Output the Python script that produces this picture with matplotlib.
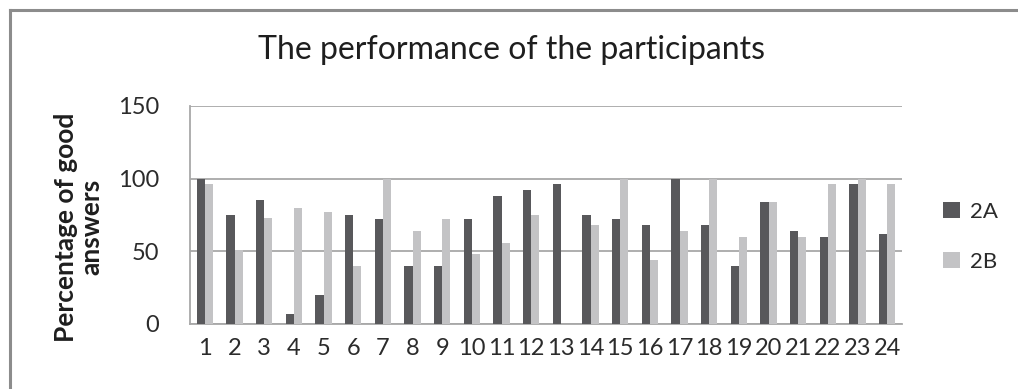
import matplotlib
matplotlib.use("Agg")
import matplotlib.pyplot as plt
import numpy as np
from matplotlib.lines import Line2D

categories = [str(i) for i in range(1, 25)]
series_2a = [100, 75, 85, 7, 20, 75, 72, 40, 40, 72, 88, 92, 96, 75, 72, 68, 100, 68, 40, 84, 64, 60, 96, 62]
series_2b = [96, 51, 73, 80, 77, 40, 100, 64, 72, 48, 56, 75, 0, 68, 100, 44, 64, 100, 60, 84, 60, 96, 100, 96]
series_names = ["2A", "2B"]
yticks = [0, 50, 100, 150]

plt.rcParams['font.family'] = ['Lato', 'DejaVu Sans']

W, H = 1018, 389
fig = plt.figure(figsize=(W / 100, H / 100), dpi=100)
fig.patch.set_facecolor("white")

# outer chart border (top and left only visible; runs off right/bottom)
bx, by = 9.5 / W, 1 - 9.5 / H
fig.add_artist(Line2D([bx, 1.0], [by, by], transform=fig.transFigure, color="#8c8c8c", linewidth=2.2))
fig.add_artist(Line2D([bx, bx], [0.0, by], transform=fig.transFigure, color="#8c8c8c", linewidth=2.2))

left, right, top, bottom = 190, 902, 106, 324
ax = fig.add_axes([left / W, 1 - bottom / H, (right - left) / W, (bottom - top) / H])

x = np.arange(len(categories))
bw = 0.28
c_a = "#58585b"
c_b = "#c3c3c5"
ax.bar(x - bw / 2, series_2a, width=bw, color=c_a, label=series_names[0], zorder=3)
ax.bar(x + bw / 2, series_2b, width=bw, color=c_b, label=series_names[1], zorder=3)

ax.set_xlim(-0.5, len(categories) - 0.5)
ax.set_ylim(0, 150)
ax.set_yticks(yticks)
ax.set_xticks(x)
ax.set_xticklabels(categories)
ax.tick_params(axis="both", length=0, labelsize=17, colors="#2b2b2b")
ax.tick_params(axis="y", pad=22)
ax.tick_params(axis="x", pad=10)

ax.grid(axis="y", color="#a8a8a8", linewidth=1.3, zorder=0)
for s in ["top", "right"]:
    ax.spines[s].set_visible(False)
ax.spines["left"].set_color("#a8a8a8")
ax.spines["bottom"].set_color("#a8a8a8")
ax.spines["left"].set_linewidth(1.3)
ax.spines["bottom"].set_linewidth(1.3)

ax.set_ylabel("Percentage of good\nanswers", fontsize=19, fontweight="bold", color="#1e1e1e",
              linespacing=1.05)
ax.yaxis.set_label_coords(-0.122, 0.445)

fig.text(512 / W, 1 - 50 / H, "The performance of the participants", ha="center", va="center",
         fontsize=23, color="#1e1e1e")

leg = ax.legend(loc="center left", bbox_to_anchor=(1.03, 0.40), frameon=False, fontsize=16,
                handlelength=0.75, handleheight=0.75, handletextpad=0.45, labelspacing=1.35,
                labelcolor="#2b2b2b")

fig.savefig("out.png", dpi=100)
